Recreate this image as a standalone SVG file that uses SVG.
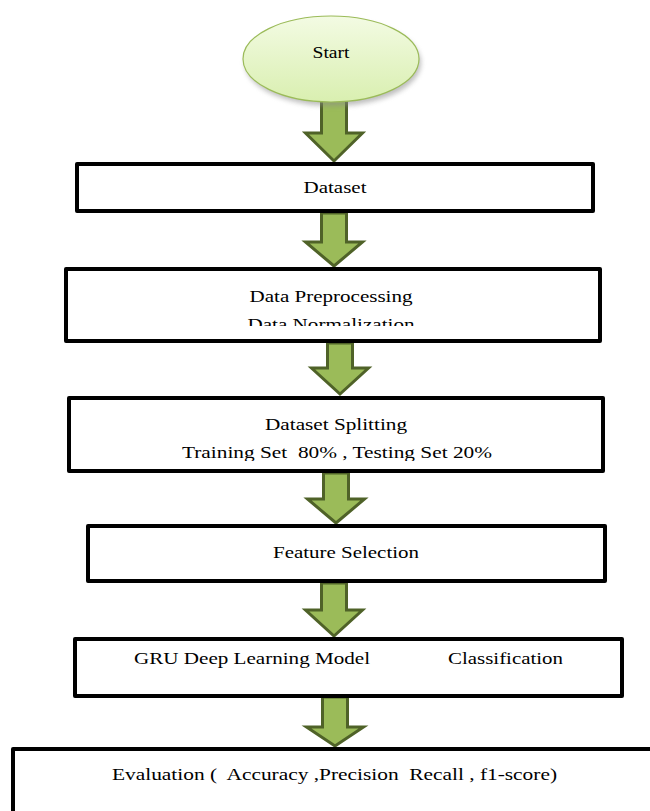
<svg xmlns="http://www.w3.org/2000/svg" width="650" height="811" viewBox="0 0 650 811">
<defs>
<linearGradient id="g" x1="0" y1="0" x2="0" y2="1">
<stop offset="0" stop-color="#f3fbe3"/>
<stop offset="1" stop-color="#d9efb0"/>
</linearGradient>
<filter id="sh" x="-20%" y="-20%" width="140%" height="150%">
<feGaussianBlur stdDeviation="2.5"/>
</filter>
<clipPath id="c2"><rect x="60" y="260" width="560" height="66"/></clipPath>
<clipPath id="c3"><rect x="60" y="390" width="560" height="71"/></clipPath>
</defs>
<style>
.box{fill:#fff;stroke:#000;stroke-width:4;stroke-linejoin:round}
.arr{fill:#9bbb59;stroke:#4f6228;stroke-width:3;stroke-linejoin:miter}
</style>
<g id="connectors">
<polygon class="arr" points="321.5,98 346.5,98 346.5,133 362.5,133 334,161 305.5,133 321.5,133"/>
<polygon class="arr" points="321.5,213 346.5,213 346.5,242 362.5,242 334,266 305.5,242 321.5,242"/>
<polygon class="arr" points="327.5,343 352.5,343 352.5,368 368.5,368 340,394 311.5,368 327.5,368"/>
<polygon class="arr" points="323.5,473 348.5,473 348.5,499 364.5,499 336,523 307.5,499 323.5,499"/>
<polygon class="arr" points="321.5,583 346.5,583 346.5,610 362.5,610 334,636 305.5,610 321.5,610"/>
<polygon class="arr" points="322.5,697 347.5,697 347.5,727 363.5,727 335,746 306.5,727 322.5,727"/>
</g>
<g font-family="Liberation Serif, Times New Roman, serif" font-size="16" fill="#000">
<g id="start">
<ellipse cx="333" cy="63" rx="88" ry="43" fill="#8a8a8a" opacity="0.55" filter="url(#sh)"/>
<ellipse cx="331" cy="59" rx="88" ry="43" fill="url(#g)" stroke="#9bbb59" stroke-width="1.2"/>
<text x="331" y="58" text-anchor="middle" textLength="37" lengthAdjust="spacingAndGlyphs">Start</text>
</g>
<g id="dataset">
<rect class="box" x="77" y="164" width="516" height="47"/>
<text x="335" y="193" text-anchor="middle" textLength="63" lengthAdjust="spacingAndGlyphs">Dataset</text>
</g>
<g id="preprocessing">
<rect class="box" x="66" y="269" width="534" height="72"/>
<text x="331" y="302" text-anchor="middle" textLength="163" lengthAdjust="spacingAndGlyphs">Data Preprocessing</text>
<text x="331" y="330" text-anchor="middle" textLength="167" lengthAdjust="spacingAndGlyphs" clip-path="url(#c2)">Data Normalization</text>
</g>
<g id="splitting">
<rect class="box" x="69" y="398" width="534" height="73"/>
<text x="336" y="430" text-anchor="middle" textLength="142" lengthAdjust="spacingAndGlyphs">Dataset Splitting</text>
<text x="337" y="458" text-anchor="middle" textLength="310" lengthAdjust="spacingAndGlyphs" clip-path="url(#c3)" xml:space="preserve">Training Set  80% , Testing Set 20%</text>
</g>
<g id="feature">
<rect class="box" x="88" y="526" width="517" height="55"/>
<text x="346" y="558" text-anchor="middle" textLength="146" lengthAdjust="spacingAndGlyphs">Feature Selection</text>
</g>
<g id="gru">
<rect class="box" x="75" y="639" width="547" height="57"/>
<text x="134" y="664" textLength="236" lengthAdjust="spacingAndGlyphs">GRU Deep Learning Model</text>
<text x="448" y="664" textLength="115" lengthAdjust="spacingAndGlyphs">Classification</text>
</g>
<g id="evaluation">
<rect class="box" x="13" y="749" width="660" height="80"/>
<text x="112" y="780" textLength="445" lengthAdjust="spacingAndGlyphs" xml:space="preserve">Evaluation (  Accuracy ,Precision  Recall , f1-score)</text>
</g>
</g>
</svg>
